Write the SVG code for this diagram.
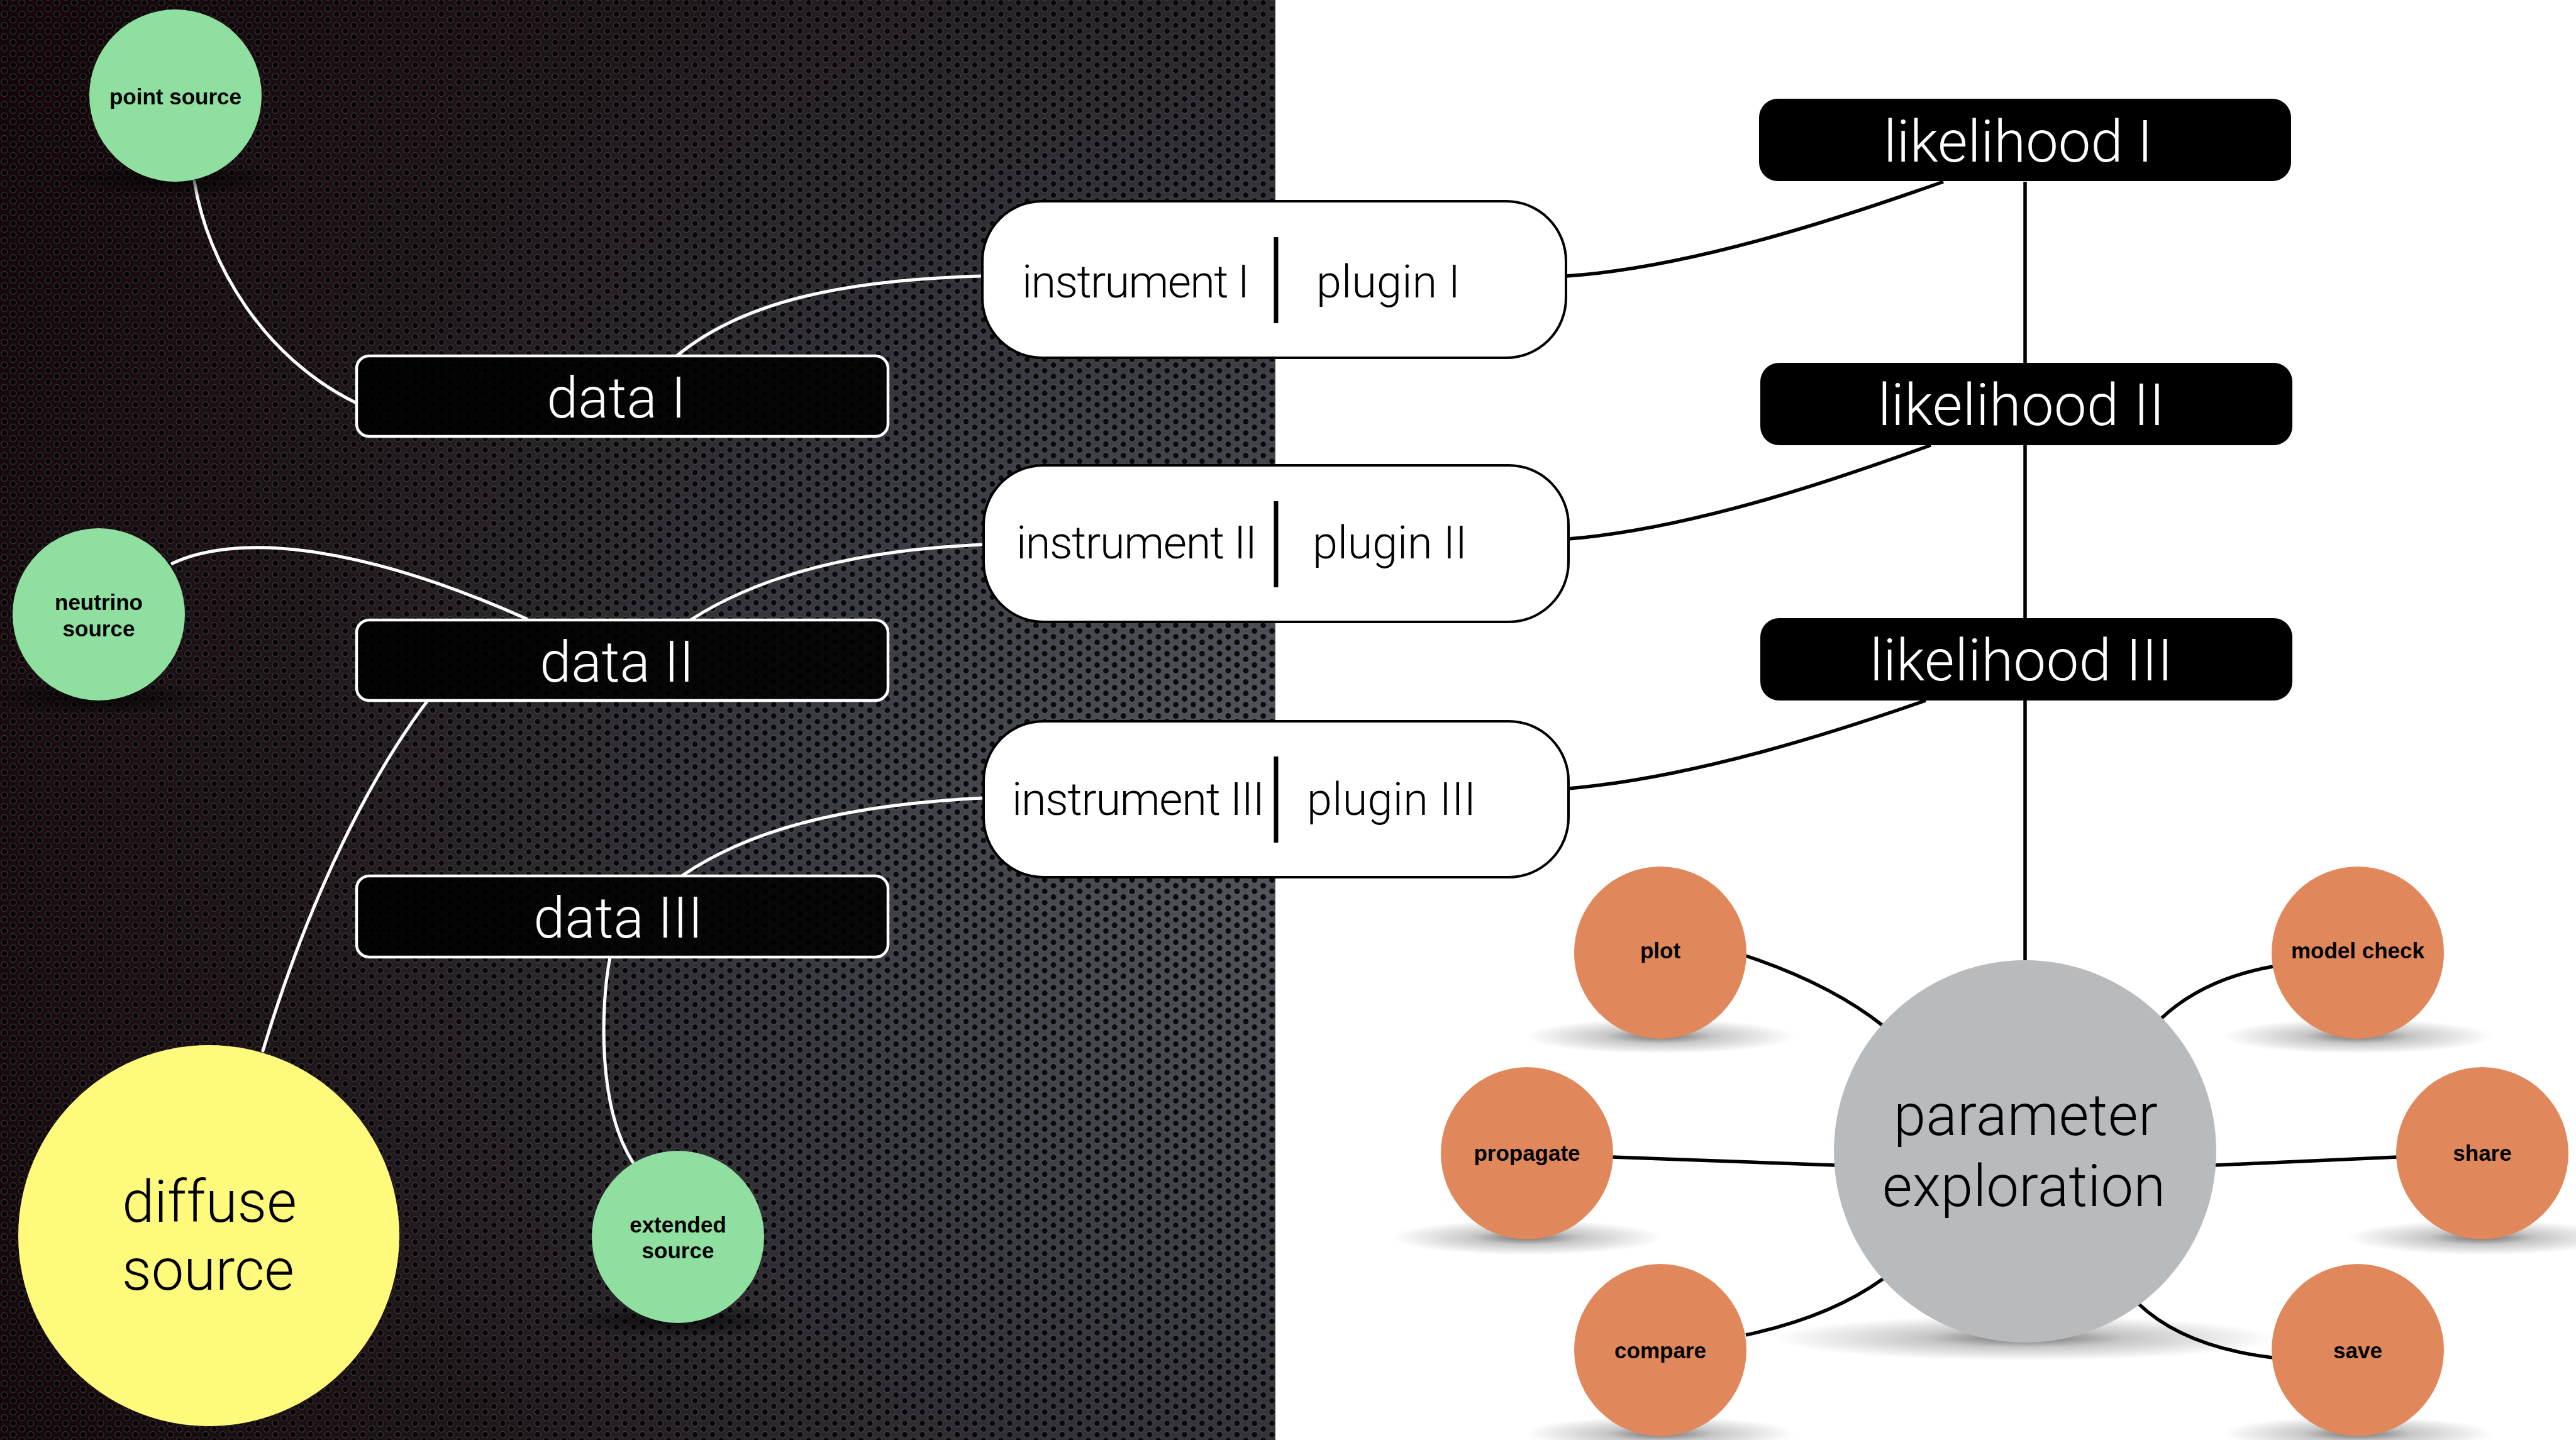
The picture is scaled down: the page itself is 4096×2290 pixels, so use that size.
<svg xmlns="http://www.w3.org/2000/svg" width="4096" height="2290" viewBox="0 0 4096 2290">
<defs>
<style>
.light{font-family:Roboto,"Liberation Sans",sans-serif;font-weight:300}
.bold{font-family:"Liberation Sans",Arial,sans-serif;font-weight:bold;font-size:35px;fill:#000;text-anchor:middle}
.wline{fill:none;stroke:#fff;stroke-width:5;stroke-linecap:round}
.bline{fill:none;stroke:#000;stroke-width:5.5}
.inst{fill:#fff;stroke:#000;stroke-width:4}
.like{fill:#000}
.data{fill:#000;fill-opacity:0.88;stroke:#fff;stroke-width:4.5}
.div{stroke:#000;stroke-width:7}
.green{fill:#8fe0a0}
.orange{fill:#e0885c}
.hole{fill:#050304;fill-opacity:0.9;stroke:#a4a9b2;stroke-opacity:0.22;stroke-width:1.6}
</style>
<radialGradient id="metal" cx="2100" cy="1300" r="2350" gradientUnits="userSpaceOnUse">
<stop offset="0" stop-color="#55585e"/>
<stop offset="0.35" stop-color="#393b42"/>
<stop offset="0.7" stop-color="#1f161a"/>
<stop offset="1" stop-color="#140609"/>
</radialGradient>
<pattern id="holes" width="27.8" height="18" patternUnits="userSpaceOnUse">
<circle class="hole" cx="7" cy="4.5" r="5"/>
<circle class="hole" cx="20.9" cy="13.5" r="5"/>
<circle class="hole" cx="20.9" cy="-4.5" r="5"/>
<circle class="hole" cx="7" cy="22.5" r="5"/>
</pattern>
<radialGradient id="shadowW">
<stop offset="0" stop-color="#000" stop-opacity="0.55"/>
<stop offset="0.4" stop-color="#000" stop-opacity="0.22"/>
<stop offset="1" stop-color="#000" stop-opacity="0"/>
</radialGradient>
<radialGradient id="shadowD">
<stop offset="0" stop-color="#000" stop-opacity="0.7"/>
<stop offset="1" stop-color="#000" stop-opacity="0"/>
</radialGradient>
</defs>

<g id="background">
<rect x="0" y="0" width="4096" height="2290" fill="#fff"/>
<rect x="0" y="0" width="2028" height="2290" fill="url(#metal)"/>
<rect x="0" y="0" width="2028" height="2290" fill="url(#holes)"/>
</g>

<g id="connectors">
<path class="wline" d="M309 288 C330 420 420 570 567 641"/>
<path class="wline" d="M1076 566 C1180 480 1340 445 1562 439"/>
<path class="wline" d="M274 896 C370 850 560 860 837 984"/>
<path class="wline" d="M1098 986 C1200 920 1350 875 1564 866"/>
<path class="wline" d="M680 1114 C600 1220 500 1400 418 1671"/>
<path class="wline" d="M1084 1393 C1190 1320 1340 1280 1564 1269"/>
<path class="wline" d="M970 1522 C955 1600 950 1760 1006 1848"/>
<path class="bline" d="M2490 439 C2700 425 2960 335 3090 289"/>
<path class="bline" d="M2494 857 C2700 840 2940 755 3070 708"/>
<path class="bline" d="M2494 1254 C2700 1236 2930 1160 3062 1114"/>
<path class="bline" d="M3220 289 L3220 1530"/>
<path class="bline" d="M2776 1520 Q2911 1565 2995 1632"/>
<path class="bline" d="M3435 1621 Q3502 1557 3614 1537"/>
<path class="bline" d="M2563 1840 L2918 1853"/>
<path class="bline" d="M3521 1853 L3812 1840"/>
<path class="bline" d="M2776 2123 Q2911 2094 2995 2033"/>
<path class="bline" d="M3400 2073 Q3472 2142 3614 2159"/>
</g>

<g id="shadows">
<ellipse cx="279" cy="286" rx="190" ry="28" fill="url(#shadowD)"/>
<ellipse cx="157" cy="1110" rx="190" ry="28" fill="url(#shadowD)"/>
<ellipse cx="1078" cy="2100" rx="190" ry="28" fill="url(#shadowD)"/>
<ellipse cx="2640" cy="1648" rx="215" ry="28" fill="url(#shadowW)"/>
<ellipse cx="3749" cy="1648" rx="215" ry="28" fill="url(#shadowW)"/>
<ellipse cx="2428" cy="1968" rx="215" ry="28" fill="url(#shadowW)"/>
<ellipse cx="3947" cy="1968" rx="215" ry="28" fill="url(#shadowW)"/>
<ellipse cx="2640" cy="2280" rx="215" ry="28" fill="url(#shadowW)"/>
<ellipse cx="3749" cy="2280" rx="215" ry="28" fill="url(#shadowW)"/>
<ellipse cx="3220" cy="2128" rx="400" ry="36" fill="url(#shadowW)"/>
</g>

<g id="point-source">
<circle class="green" cx="279" cy="152" r="137"/>
<text class="bold" x="279" y="166">point source</text>
</g>
<g id="neutrino-source">
<circle class="green" cx="157" cy="977" r="137"/>
<text class="bold" x="157" y="970">neutrino</text>
<text class="bold" x="157" y="1012">source</text>
</g>
<g id="extended-source">
<circle class="green" cx="1078" cy="1967" r="137"/>
<text class="bold" x="1078" y="1960">extended</text>
<text class="bold" x="1078" y="2001">source</text>
</g>
<g id="diffuse-source">
<circle cx="332" cy="1965" r="303" fill="#fff97c"/>
<text class="light" x="333" y="1943" font-size="92" text-anchor="middle" fill="#000">diffuse</text>
<text class="light" x="331" y="2051" font-size="92" text-anchor="middle" fill="#000">source</text>
</g>

<g id="data-I">
<rect class="data" x="567" y="566" width="845" height="128" rx="20"/>
<text class="light" x="980" y="664" font-size="90" text-anchor="middle" fill="#fff">data I</text>
</g>
<g id="data-II">
<rect class="data" x="567" y="986" width="845" height="128" rx="20"/>
<text class="light" x="981" y="1084" font-size="90" text-anchor="middle" fill="#fff">data II</text>
</g>
<g id="data-III">
<rect class="data" x="567" y="1393" width="845" height="129" rx="20"/>
<text class="light" x="983" y="1491" font-size="90" text-anchor="middle" fill="#fff">data III</text>
</g>

<g id="instrument-I">
<rect class="inst" x="1562" y="320" width="928" height="249" rx="95"/>
<line class="div" x1="2029" y1="377" x2="2029" y2="514"/>
<text class="light" x="1625" y="473" font-size="72" textLength="362" fill="#000">instrument I</text>
<text class="light" x="2093" y="473" font-size="72" textLength="229" fill="#000">plugin I</text>
</g>
<g id="instrument-II">
<rect class="inst" x="1564" y="740" width="930" height="249" rx="95"/>
<line class="div" x1="2029" y1="797" x2="2029" y2="934"/>
<text class="light" x="1616" y="888" font-size="72" textLength="383" fill="#000">instrument II</text>
<text class="light" x="2087" y="888" font-size="72" textLength="246" fill="#000">plugin II</text>
</g>
<g id="instrument-III">
<rect class="inst" x="1564" y="1147" width="930" height="248" rx="95"/>
<line class="div" x1="2029" y1="1203" x2="2029" y2="1340"/>
<text class="light" x="1609" y="1296" font-size="72" textLength="402" fill="#000">instrument III</text>
<text class="light" x="2078" y="1296" font-size="72" textLength="269" fill="#000">plugin III</text>
</g>

<g id="likelihood-I">
<rect class="like" x="2797" y="157" width="846" height="131" rx="30"/>
<text class="light" x="2995" y="257" font-size="92" textLength="428" fill="#fff">likelihood I</text>
</g>
<g id="likelihood-II">
<rect class="like" x="2799" y="577" width="846" height="131" rx="30"/>
<text class="light" x="2986" y="676" font-size="92" textLength="456" fill="#fff">likelihood II</text>
</g>
<g id="likelihood-III">
<rect class="like" x="2799" y="983" width="846" height="131" rx="30"/>
<text class="light" x="2973" y="1082" font-size="92" textLength="482" fill="#fff">likelihood III</text>
</g>

<g id="parameter-exploration">
<circle cx="3220" cy="1831" r="304" fill="#b8bbbe"/>
<text class="light" x="3011" y="1805" font-size="92" textLength="420" fill="#000">parameter</text>
<text class="light" x="2993" y="1918" font-size="92" textLength="450" fill="#000">exploration</text>
</g>

<g id="plot">
<circle class="orange" cx="2640" cy="1515" r="137"/>
<text class="bold" x="2640" y="1524">plot</text>
</g>
<g id="model-check">
<circle class="orange" cx="3749" cy="1515" r="137"/>
<text class="bold" x="3749" y="1524">model check</text>
</g>
<g id="propagate">
<circle class="orange" cx="2428" cy="1834" r="137"/>
<text class="bold" x="2428" y="1846">propagate</text>
</g>
<g id="share">
<circle class="orange" cx="3947" cy="1834" r="137"/>
<text class="bold" x="3947" y="1846">share</text>
</g>
<g id="compare">
<circle class="orange" cx="2640" cy="2147" r="137"/>
<text class="bold" x="2640" y="2160">compare</text>
</g>
<g id="save">
<circle class="orange" cx="3749" cy="2147" r="137"/>
<text class="bold" x="3749" y="2160">save</text>
</g>
</svg>
